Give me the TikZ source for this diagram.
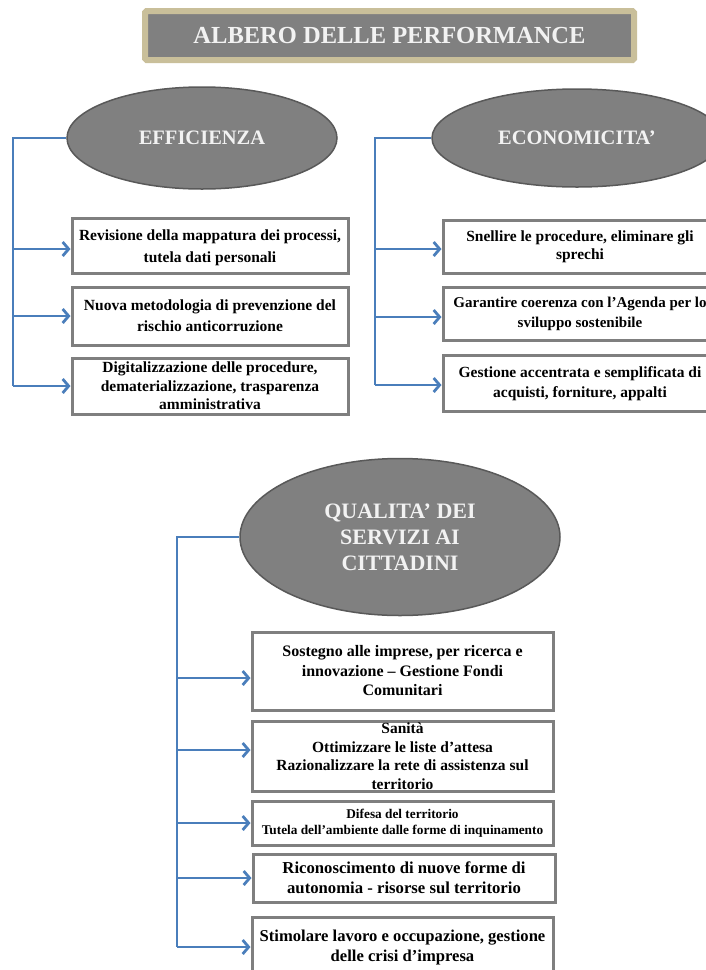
\documentclass[tikz,border=0pt]{standalone}
\usepackage{fontspec}
\setmainfont{Liberation Serif}
\usetikzlibrary{arrows.meta,shapes.geometric}
\definecolor{tan}{HTML}{C9BF9A}
\definecolor{midgray}{HTML}{808080}
\definecolor{edgegray}{HTML}{595959}
\definecolor{boxgray}{HTML}{7F7F7F}
\definecolor{conblue}{HTML}{4A7EBB}
\definecolor{ltext}{HTML}{F2F2F2}
\tikzset{
  titlebox/.style={rectangle, draw=tan, line width=6pt, fill=midgray, rounded corners=1.5pt,
    minimum width=489pt, minimum height=49pt, inner sep=0pt,
    font=\fontsize{24.5}{28}\selectfont\bfseries, text=ltext},
  bigoval/.style={ellipse, draw=edgegray, line width=1.5pt, fill=midgray, inner sep=0pt,
    text=ltext, font=\fontsize{20.5}{26}\selectfont\bfseries, align=center},
  itembox/.style={rectangle, draw=boxgray, line width=3pt, fill=white, inner sep=0pt,
    align=center, font=\fontsize{15.5}{20}\selectfont\bfseries},
  trunk/.style={draw=conblue, line width=2.8pt},
  branch/.style={draw=conblue, line width=2.8pt, -{Straight Barb[length=6pt,width=14pt,line width=2.8pt]}},
}
\begin{document}
\begin{tikzpicture}[x=1pt,y=-1pt]
\useasboundingbox (0,0) rectangle (706,970);
% title
\node[titlebox] (title) at (389.5,35.5) {ALBERO DELLE PERFORMANCE};

% ---------- EFFICIENZA ----------
\node[bigoval, minimum width=270pt, minimum height=102pt] (eff) at (202,138) {EFFICIENZA};
\node[itembox, minimum width=276pt, minimum height=55pt, font=\fontsize{15.5}{21.5}\selectfont\bfseries] (e1) at (210,245.5)
  {\rule{0pt}{15pt}Revisione della mappatura dei processi,\\tutela dati personali};
\node[itembox, minimum width=276pt, minimum height=58pt, font=\fontsize{15.5}{21}\selectfont\bfseries] (e2) at (210,316)
  {Nuova metodologia di prevenzione del\\rischio anticorruzione};
\node[itembox, minimum width=276pt, minimum height=56pt, font=\fontsize{15.5}{18.5}\selectfont\bfseries] (e3) at (210,386)
  {Digitalizzazione delle procedure,\\dematerializzazione, trasparenza\\amministrativa};
\coordinate (ebot) at (13,386);
\draw[trunk] (eff.west) -| (ebot);
\draw[branch] (ebot |- 0,249) -- (e1.west |- 0,249);
\draw[branch] (ebot |- e2.west) -- (e2.west);
\draw[branch] (ebot) -- (e3.west);

% ---------- ECONOMICITA' ----------
\node[bigoval, minimum width=290pt, minimum height=98pt] (eco) at (577,138) {ECONOMICITA’};
\node[itembox, minimum width=274pt, minimum height=53pt, font=\fontsize{15.5}{18}\selectfont\bfseries] (c1) at (580,247)
  {Snellire le procedure, eliminare gli\\sprechi};
\node[itembox, minimum width=274pt, minimum height=53pt, font=\fontsize{15}{19.5}\selectfont\bfseries] (c2) at (580,314)
  {Garantire coerenza con l’Agenda per lo\\sviluppo sostenibile};
\node[itembox, minimum width=274pt, minimum height=56pt] (c3) at (580,383.5)
  {Gestione accentrata e semplificata di\\acquisti, forniture, appalti};
\coordinate (cbot) at (375,385);
\draw[trunk] (eco.west) -| (cbot);
\draw[branch] (cbot |- 0,249) -- (c1.west |- 0,249);
\draw[branch] (cbot |- 0,317) -- (c2.west |- 0,317);
\draw[branch] (cbot) -- (c3.west |- cbot);

% ---------- QUALITA' ----------
\node[bigoval, minimum width=320pt, minimum height=157pt, font=\fontsize{22}{26}\selectfont\bfseries] (qual) at (400,537)
  {QUALITA’ DEI\\SERVIZI AI\\CITTADINI};
\node[itembox, minimum width=301pt, minimum height=78pt, font=\fontsize{16}{19.5}\selectfont\bfseries] (q1) at (402.5,671)
  {Sostegno alle imprese, per ricerca e\\innovazione – Gestione Fondi\\Comunitari};
\node[itembox, minimum width=301pt, minimum height=70pt, font=\fontsize{15.5}{18.5}\selectfont\bfseries] (q2) at (402.5,756)
  {Sanità\\Ottimizzare le liste d’attesa\\Razionalizzare la rete di assistenza sul\\territorio};
\node[itembox, minimum width=301pt, minimum height=44pt, font=\fontsize{13.3}{16}\selectfont\bfseries] (q3) at (402.5,823)
  {Difesa del territorio\\Tutela dell’ambiente dalle forme di inquinamento};
\node[itembox, minimum width=302pt, minimum height=48pt, font=\fontsize{16.7}{20}\selectfont\bfseries] (q4) at (404,878)
  {Riconoscimento di nuove forme di\\autonomia - risorse sul territorio};
\node[itembox, minimum width=301pt, minimum height=60pt, font=\fontsize{16.6}{20}\selectfont\bfseries] (q5) at (402.5,947)
  {Stimolare lavoro e occupazione, gestione\\delle crisi d’impresa};
\coordinate (qbot) at (177,947);
\draw[trunk] (qual.west) -| (qbot);
\draw[branch] (qbot |- 0,678) -- (q1.west |- 0,678);
\draw[branch] (qbot |- 0,750) -- (q2.west |- 0,750);
\draw[branch] (qbot |- q3.west) -- (q3.west);
\draw[branch] (qbot |- q4.west) -- (q4.west);
\draw[branch] (qbot) -- (q5.west);
\end{tikzpicture}
\end{document}
